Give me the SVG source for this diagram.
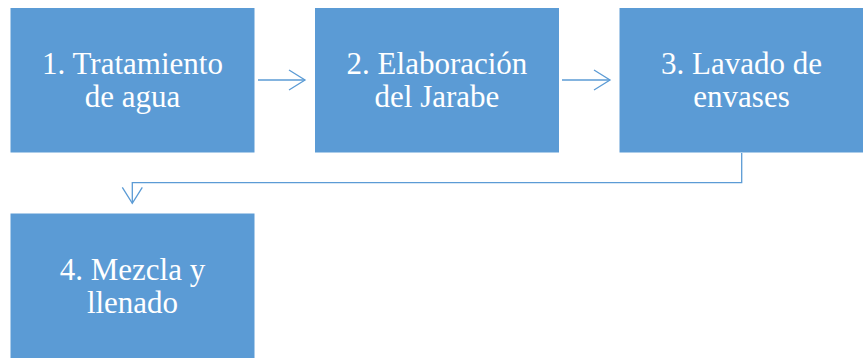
<svg xmlns="http://www.w3.org/2000/svg" width="863" height="358" viewBox="0 0 863 358">
<style>
.box{fill:#5B9BD5;stroke:#FFFFFF;stroke-width:1}
.lbl{font-family:'Liberation Serif','Times New Roman','DejaVu Serif',serif;font-size:31px;fill:#FFFFFF;text-anchor:middle}
.conn{fill:none;stroke:#5B9BD5;stroke-width:1.3}
</style>
<defs>
<marker id="arr" markerWidth="20" markerHeight="24" refX="17" refY="11" orient="auto" markerUnits="userSpaceOnUse">
<path d="M1,1 L17,11 L1,21" fill="none" stroke="#5B9BD5" stroke-width="1.3"/>
</marker>
</defs>
<rect width="863" height="358" fill="#FFFFFF"/>
<g id="node1">
<rect class="box" x="10" y="7.5" width="245" height="145.5"/>
<text class="lbl" font-family="Liberation Serif, serif" x="132.5" y="74">1. Tratamiento</text>
<text class="lbl" font-family="Liberation Serif, serif" x="132.5" y="107">de agua</text>
</g>
<g id="node2">
<rect class="box" x="314.5" y="7.5" width="245" height="145.5"/>
<text class="lbl" font-family="Liberation Serif, serif" x="437" y="74">2. Elaboración</text>
<text class="lbl" font-family="Liberation Serif, serif" x="437" y="107">del Jarabe</text>
</g>
<g id="node3">
<rect class="box" x="619" y="7.5" width="245" height="145.5"/>
<text class="lbl" font-family="Liberation Serif, serif" x="741.5" y="74">3. Lavado de</text>
<text class="lbl" font-family="Liberation Serif, serif" x="741.5" y="107">envases</text>
</g>
<g id="node4">
<rect class="box" x="10" y="213" width="245" height="146"/>
<text class="lbl" font-family="Liberation Serif, serif" x="132.5" y="280">4. Mezcla y</text>
<text class="lbl" font-family="Liberation Serif, serif" x="132.5" y="313">llenado</text>
</g>
<g id="connectors">
<path class="conn" d="M258,80 H305" marker-end="url(#arr)"/>
<path class="conn" d="M562,80 H610" marker-end="url(#arr)"/>
<path class="conn" d="M741.7,153 V182.7 H132.3 V203.3" marker-end="url(#arr)"/>
</g>
</svg>
